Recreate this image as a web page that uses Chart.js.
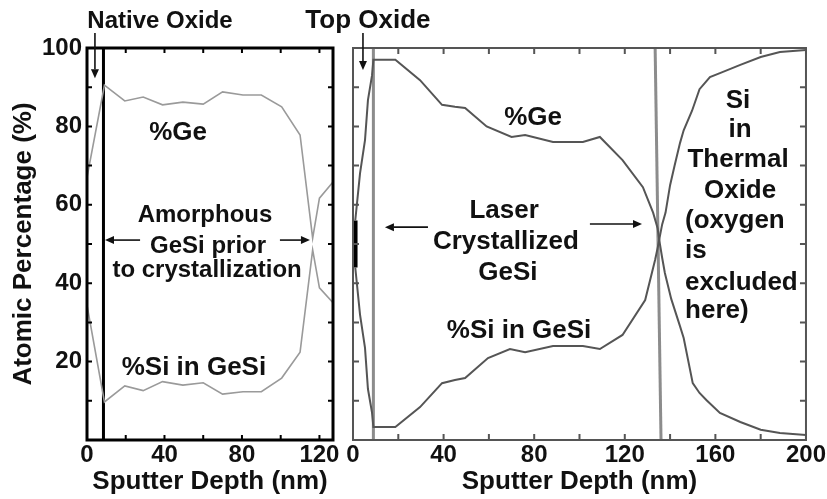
<!DOCTYPE html>
<html lang="en">
<head>
    <meta charset="UTF-8">
    <title>GeSi depth profiles</title>
    <style>
        * { margin: 0; padding: 0; box-sizing: border-box; }
        body { background: #fff; width: 827px; height: 499px; overflow: hidden; }
        .panel { position: absolute; top: 0; }
        #leftPanel { left: 0; }
        #rightPanel { left: 295px; }
    </style>
</head>
<body>
    <canvas id="leftPanel" class="panel" width="345" height="499"></canvas>
    <canvas id="rightPanel" class="panel" width="532" height="499"></canvas>

    <script src="https://cdn.jsdelivr.net/npm/chart.js"></script>
    <script>
        // Amorphous film (before laser crystallization)
        const leftDepth = [0, 9, 19.5, 29, 39, 49.5, 60, 70, 80.5, 90, 100.5, 110, 116.5, 120, 127];
        const leftGe = [67, 90.5, 86.5, 87.5, 85.5, 86.2, 85.7, 88.8, 88, 88, 85, 77.8, 51.5, 61.7, 65.8];
        const leftSi = [34.4, 9.7, 13.8, 12.6, 14.9, 14, 14.6, 11.7, 12.3, 12.3, 15.8, 22.4, 48.5, 38.8, 35];
        const nativeOxideEdge = 8.5;

        // Laser crystallized film
        const rightGeDepth = [1, 3.1, 5.3, 6.6, 8.4, 9, 18.7, 29.6, 39.3, 45, 49.5, 59, 70, 76, 88.3, 101.5, 109, 119, 128, 132.5, 134.5, 135.5, 136.5, 137.7, 140.5, 144.4, 146, 150, 153, 156, 162, 171, 180, 188.5, 200];
        const rightGe = [56, 68, 76.5, 86.7, 93, 97, 97, 91.8, 85.5, 85, 84.7, 80, 77.3, 77.8, 76, 76, 77.3, 71.4, 64.5, 58, 54, 50, 46.5, 42.6, 36, 29, 26, 14.5, 12, 10.2, 6.9, 4.6, 2.6, 1.8, 1.3];
        const rightSiDepth = [1, 3.1, 5.3, 6.6, 8.4, 9, 18.7, 29.6, 39.3, 45, 49.5, 59.6, 69.3, 76, 88.3, 101.5, 109, 119, 129, 133.4, 134.5, 135.5, 136.5, 138, 140, 142, 144.4, 146, 149.7, 153, 157.6, 162, 171, 180, 188.5, 200];
        const rightSi = [44, 32, 23.5, 13, 7, 3.3, 3.3, 8.4, 14.5, 15.3, 15.8, 20.9, 23.2, 22.4, 24, 24, 23.2, 26.8, 35.7, 46, 49, 52, 55, 58, 65, 70, 75.8, 79, 84, 89.5, 92.6, 93.6, 95.7, 97.7, 99, 99.5];
        // boundaries as [depth at 100 %, depth at 0 %]
        const topOxideEdge = [9, 9];
        const oxideInterface = [133.4, 136];   // GeSi / thermal oxide, slightly tilted
        const topOxideBar = [44, 56];          // overlapping signals at the surface
        const topOxideBarDepth = 0.9;

        // Axis ticks
        const depthStep = 20;
        const percentStep = 10;
        const depthLabelEvery = 40;
        const percentLabelEvery = 20;

        const FONT = '"Liberation Sans", Arial, sans-serif';
        const pts = (xs, ys) => xs.map((x, i) => ({ x: x, y: ys[i] }));

        // layer boundaries, clipped to the plot area
        const boundaries = {
            id: 'boundaries',
            beforeDatasetsDraw(chart, args, opts) {
                const { ctx, chartArea: a, scales: { x, y } } = chart;
                ctx.save();
                ctx.beginPath();
                ctx.rect(a.left, a.top, a.right - a.left, a.bottom - a.top);
                ctx.clip();
                (opts.lines || []).forEach(l => {
                    ctx.strokeStyle = l.color;
                    ctx.lineWidth = l.width;
                    ctx.beginPath();
                    ctx.moveTo(x.getPixelForValue(l.depth[0]), y.getPixelForValue(100));
                    ctx.lineTo(x.getPixelForValue(l.depth[1]), y.getPixelForValue(0));
                    ctx.stroke();
                });
                ctx.restore();
            }
        };

        // frame with inward tick marks on all four sides
        const frame = {
            id: 'frame',
            afterDatasetsDraw(chart, args, opts) {
                const { ctx, chartArea: a, scales: { x, y } } = chart;
                ctx.save();
                ctx.strokeStyle = opts.color;
                ctx.lineWidth = opts.width;
                ctx.strokeRect(a.left, a.top, a.right - a.left, a.bottom - a.top);
                ctx.lineWidth = opts.tickWidth;
                ctx.beginPath();
                x.ticks.forEach(t => {
                    const px = x.getPixelForValue(t.value);
                    ctx.moveTo(px, a.bottom); ctx.lineTo(px, a.bottom - opts.tickLen);
                    ctx.moveTo(px, a.top); ctx.lineTo(px, a.top + opts.tickLen);
                });
                y.ticks.forEach(t => {
                    const py = y.getPixelForValue(t.value);
                    ctx.moveTo(a.left, py); ctx.lineTo(a.left + opts.tickLen, py);
                    ctx.moveTo(a.right, py); ctx.lineTo(a.right - opts.tickLen, py);
                });
                ctx.stroke();
                ctx.restore();
            }
        };

        // text labels and arrows placed in data units
        const notes = {
            id: 'notes',
            afterDraw(chart, args, opts) {
                const { ctx, scales: { x, y } } = chart;
                ctx.save();
                ctx.fillStyle = '#111';
                ctx.strokeStyle = '#111';
                ctx.textBaseline = 'alphabetic';
                (opts.texts || []).forEach(t => {
                    ctx.font = 'bold ' + t.size + 'px ' + FONT;
                    ctx.textAlign = t.align || 'center';
                    ctx.fillText(t.text, x.getPixelForValue(t.x), y.getPixelForValue(t.y));
                });
                (opts.arrows || []).forEach(ar => {
                    const x0 = x.getPixelForValue(ar.from[0]), y0 = y.getPixelForValue(ar.from[1]);
                    const x1 = x.getPixelForValue(ar.to[0]), y1 = y.getPixelForValue(ar.to[1]);
                    const ang = Math.atan2(y1 - y0, x1 - x0);
                    const head = 9, half = 4;
                    ctx.lineWidth = 1.6;
                    ctx.beginPath();
                    ctx.moveTo(x0, y0);
                    ctx.lineTo(x1 - Math.cos(ang) * head, y1 - Math.sin(ang) * head);
                    ctx.stroke();
                    ctx.beginPath();
                    ctx.moveTo(x1, y1);
                    ctx.lineTo(x1 - Math.cos(ang) * head - Math.sin(ang) * half, y1 - Math.sin(ang) * head + Math.cos(ang) * half);
                    ctx.lineTo(x1 - Math.cos(ang) * head + Math.sin(ang) * half, y1 - Math.sin(ang) * head - Math.cos(ang) * half);
                    ctx.closePath();
                    ctx.fill();
                });
                ctx.restore();
            }
        };

        function depthAxis(max) {
            return {
                type: 'linear', min: 0, max: max,
                grid: { display: false, drawTicks: false },
                border: { display: false },
                ticks: {
                    stepSize: depthStep, includeBounds: false, autoSkip: false, maxRotation: 0,
                    padding: 1, color: '#111',
                    font: { family: FONT, size: 24, weight: 'bold' },
                    callback: v => (v % depthLabelEvery === 0 ? v : '')
                },
                title: {
                    display: true, text: 'Sputter Depth (nm)', color: '#111',
                    font: { family: FONT, size: 26, weight: 'bold' },
                    padding: { top: 0, bottom: 2 }
                },
                afterFit(s) { s.height = 59; }
            };
        }

        const lineStyle = { pointRadius: 0, tension: 0, fill: false };

        // Left: amorphous GeSi with native oxide
        new Chart(document.getElementById('leftPanel'), {
            type: 'line',
            data: {
                datasets: [
                    { ...lineStyle, data: pts(leftDepth, leftGe), borderColor: '#9a9a9a', borderWidth: 1.6 },
                    { ...lineStyle, data: pts(leftDepth, leftSi), borderColor: '#9a9a9a', borderWidth: 1.6 }
                ]
            },
            options: {
                responsive: false, animation: false,
                layout: { padding: { left: 0, right: 12, top: 48, bottom: 0 }, autoPadding: false },
                plugins: {
                    legend: { display: false }, tooltip: { enabled: false },
                    boundaries: { lines: [{ depth: [nativeOxideEdge, nativeOxideEdge], color: '#000', width: 3 }] },
                    frame: { color: '#000', width: 3, tickWidth: 2, tickLen: 5 },
                    notes: {
                        texts: [
                            { text: 'Native Oxide', x: 37.7, y: 105.1, size: 24 },
                            { text: '%Ge', x: 47, y: 76.5, size: 26 },
                            { text: 'Amorphous', x: 60.9, y: 55.6, size: 24 },
                            { text: 'GeSi prior', x: 62.5, y: 47.7, size: 24 },
                            { text: 'to crystallization', x: 62, y: 41.6, size: 24 },
                            { text: '%Si in GeSi', x: 55.2, y: 16.6, size: 26 }
                        ],
                        arrows: [
                            { from: [4.1, 103.8], to: [4.1, 92.3] },
                            { from: [27.4, 51], to: [9.3, 51] },
                            { from: [99.6, 51], to: [115.1, 51] }
                        ]
                    }
                },
                scales: {
                    x: depthAxis(127),
                    y: {
                        type: 'linear', min: 0, max: 100,
                        grid: { display: false, drawTicks: false },
                        border: { display: false },
                        ticks: {
                            stepSize: percentStep, padding: 5, color: '#111',
                            font: { family: FONT, size: 24, weight: 'bold' },
                            callback: v => (v > 0 && v % percentLabelEvery === 0 ? v : '')
                        },
                        title: {
                            display: true, text: 'Atomic Percentage (%)', color: '#111',
                            font: { family: FONT, size: 26, weight: 'bold' },
                            padding: { top: 8, bottom: 0 }
                        },
                        afterFit(s) { s.width = 87; }
                    }
                }
            },
            plugins: [boundaries, frame, notes]
        });

        // Right: laser crystallized GeSi on thermal oxide
        new Chart(document.getElementById('rightPanel'), {
            type: 'line',
            data: {
                datasets: [
                    { ...lineStyle, data: pts(rightGeDepth, rightGe), borderColor: '#555', borderWidth: 2 },
                    { ...lineStyle, data: pts(rightSiDepth, rightSi), borderColor: '#555', borderWidth: 2 },
                    { ...lineStyle, data: [{ x: topOxideBarDepth, y: topOxideBar[0] }, { x: topOxideBarDepth, y: topOxideBar[1] }], borderColor: '#000', borderWidth: 5 }
                ]
            },
            options: {
                responsive: false, animation: false,
                layout: { padding: { left: 58, right: 21, top: 48, bottom: 0 }, autoPadding: false },
                plugins: {
                    legend: { display: false }, tooltip: { enabled: false },
                    boundaries: {
                        lines: [
                            { depth: topOxideEdge, color: '#8c8c8c', width: 3 },
                            { depth: oxideInterface, color: '#8c8c8c', width: 3 }
                        ]
                    },
                    frame: { color: '#555', width: 2, tickWidth: 2, tickLen: 6 },
                    notes: {
                        texts: [
                            { text: 'Top Oxide', x: 6.6, y: 105.1, size: 26 },
                            { text: '%Ge', x: 79.5, y: 80.4, size: 26 },
                            { text: 'Laser', x: 66.7, y: 56.6, size: 26 },
                            { text: 'Crystallized', x: 67.5, y: 48.7, size: 26 },
                            { text: 'GeSi', x: 68.4, y: 40.8, size: 26 },
                            { text: '%Si in GeSi', x: 73.3, y: 26, size: 26 },
                            { text: 'Si', x: 170, y: 84.7, size: 26 },
                            { text: 'in', x: 170.9, y: 77.3, size: 26 },
                            { text: 'Thermal', x: 170, y: 69.6, size: 26 },
                            { text: 'Oxide', x: 170.9, y: 61.7, size: 26 },
                            { text: '(oxygen', x: 146.6, y: 54.1, size: 26, align: 'left' },
                            { text: 'is', x: 146.6, y: 46.4, size: 26, align: 'left' },
                            { text: 'excluded', x: 146.6, y: 38.3, size: 26, align: 'left' },
                            { text: 'here)', x: 146.6, y: 31.1, size: 26, align: 'left' }
                        ],
                        arrows: [
                            { from: [4.4, 103.8], to: [4.4, 94.4] },
                            { from: [33.1, 54.3], to: [14.1, 54.3] },
                            { from: [104.6, 55.1], to: [127.6, 55.1] }
                        ]
                    }
                },
                scales: {
                    x: depthAxis(200),
                    y: {
                        type: 'linear', min: 0, max: 100,
                        grid: { display: false, drawTicks: false },
                        border: { display: false },
                        ticks: { stepSize: percentStep, display: false },
                        afterFit(s) { s.width = 0; }
                    }
                }
            },
            plugins: [boundaries, frame, notes]
        });
    </script>
</body>
</html>
